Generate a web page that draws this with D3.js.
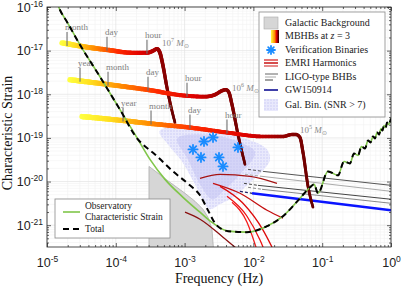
<!DOCTYPE html>
<html>
<head>
<meta charset="utf-8">
<script src="https://cdn.jsdelivr.net/npm/d3@7"></script>
<style>
body { margin: 0; background: #fff; }
</style>
</head>
<body>
<div id="chart"></div>
<script>
// all points are [log10 frequency (Hz), log10 characteristic strain]
const sensitivity = [
  [-4.869,-15.840],[-4.811,-16.068],[-4.709,-16.342],[-4.520,-16.868],[-4.230,-17.598],
  [-3.939,-18.352],[-3.677,-19.037],[-3.503,-19.493],[-3.285,-19.950],[-3.023,-20.361],
  [-2.776,-20.703],[-2.587,-20.954],[-2.369,-21.137],[-2.093,-21.160],[-1.802,-21.023],
  [-1.570,-20.795],[-1.323,-20.384],[-1.177,-20.132],[-1.119,-20.064],[-1.061,-20.269],
  [-0.916,-19.767],[-0.770,-19.858],[-0.683,-19.539],[-0.596,-19.584],[-0.538,-19.356],
  [-0.480,-19.402],[-0.429,-19.196],[-0.378,-19.242],[-0.334,-19.059],[-0.298,-19.105],
  [-0.262,-18.968],[-0.233,-19.014],[-0.203,-18.877],[-0.174,-18.922],[-0.145,-18.785],
  [-0.124,-18.831],[-0.102,-18.717],[-0.077,-18.763],[-0.058,-18.648],[-0.036,-18.694],
  [0,-18.557]
];
// where the total (with galactic confusion) departs from the instrument curve
const totalGalactic = [
  [-3.605,-19.151],[-3.430,-19.379],[-3.169,-19.767],[-2.922,-20.087],[-2.776,-20.315],
  [-2.660,-20.658],[-2.558,-20.954],[-2.427,-21.114]
];
const galacticBg = [
  [-3.517,-22],[-3.517,-19.653],[-3.212,-20.018],[-2.994,-20.269],[-2.849,-20.452],
  [-2.733,-20.635],[-2.660,-20.817],[-2.602,-21.091],[-2.558,-22]
];

const mbhb7 = [
  [-4.782,-16.822],[-4.448,-16.913],[-4.128,-16.982],[-3.750,-17.050],[-3.547,-17.050],
  [-3.459,-17.005],[-3.401,-16.959],[-3.358,-17.050],[-3.314,-17.347],[-3.256,-17.849],
  [-3.198,-18.283],[-3.140,-18.648]
];
const mbhb6 = [
  [-4.666,-17.667],[-4.084,-17.781],[-3.547,-17.895],[-2.994,-18.032],[-2.703,-18.055],
  [-2.558,-18.009],[-2.456,-17.918],[-2.398,-17.895],[-2.355,-17.963],[-2.311,-18.237],
  [-2.224,-18.922],[-2.122,-19.607]
];
const mbhb5 = [
  [-4.491,-18.511],[-3.895,-18.603],[-3.503,-18.671],[-2.922,-18.763],[-2.384,-18.877],
  [-1.860,-18.968],[-1.570,-18.968],[-1.439,-18.922],[-1.381,-18.922],[-1.323,-18.991],
  [-1.279,-19.333],[-1.206,-20.110],[-1.134,-20.589]
];
const timeTicks = [
  ["month",-4.709,-16.868],["day",-4.128,-16.982],["hour",-3.547,-17.050],
  ["year",-4.520,-17.689],["month",-4.113,-17.781],["day",-3.532,-17.895],["hour",-2.965,-18.032],
  ["year",-3.895,-18.603],["month",-3.488,-18.671],["day",-2.922,-18.763],["hour",-2.384,-18.877]
];
const massLabels = [["7",-3.328,-16.890],["6",-2.311,-17.918],["5",-1.323,-18.877]];

const verificationBinaries = [
  [-2.878,-19.265],[-2.762,-19.447],[-2.718,-19.082],[-2.587,-18.991],
  [-2.500,-19.447],[-2.442,-19.653],[-2.224,-19.219]
];
const galBinOuter = [
  [-3.358,-18.831],[-2.994,-18.717],[-2.558,-18.808],[-2.122,-19.014],[-1.831,-19.219],
  [-1.759,-19.493],[-1.875,-19.767],[-2.078,-20.064],[-2.267,-20.338],[-2.485,-20.521],
  [-2.631,-20.635],[-2.718,-20.475],[-2.849,-20.064],[-3.038,-19.539],[-3.241,-19.151]
];
const galBinInner = [
  [-3.096,-18.991],[-2.558,-18.945],[-2.122,-19.151],[-1.977,-19.379],[-2.195,-19.836],
  [-2.413,-20.178],[-2.602,-20.406],[-2.776,-20.064],[-2.951,-19.493]
];

const emri = [
  [[-2.994,-20.703],[-2.776,-20.863],[-2.442,-21.274],[-2.195,-21.6]],
  [[-2.776,-19.927],[-2.485,-19.836],[-2.049,-19.881],[-1.657,-20.041]],
  [[-2.587,-20.041],[-2.195,-20.269],[-1.802,-20.658],[-1.570,-20.840]],
  [[-2.485,-20.110],[-2.151,-20.498],[-1.860,-21.114],[-1.730,-21.502]],
  [[-2.384,-20.338],[-2.093,-20.795],[-1.904,-21.342],[-1.860,-21.502]],
  [[-2.311,-20.475],[-2.093,-20.932],[-1.962,-21.502]]
];
const emriColors = ["#8b1010", "#a51212", "#c41010", "#dd0a0a", "#ee1010", "#f51a1a"];

// [dashed start, solid start, end]
const ligo = [
  [[-2.078,-19.721],[-1.860,-19.767],[0,-20.087]],
  [[-2.122,-19.836],[-1.875,-19.881],[0,-20.224]],
  [[-2.137,-20.041],[-1.933,-20.087],[0,-20.406]],
  [[-2.078,-20.132],[-1.875,-20.178],[0,-20.498]]
];
const ligoColors = ["#555", "#aaa", "#444", "#888"];
const gw150914 = [[-2.195,-20.224],[-2.020,-20.269],[0,-20.658]];

const xMajor = [1e-5, 1e-4, 1e-3, 1e-2, 1e-1, 1];
const yMajor = [1e-21, 1e-20, 1e-19, 1e-18, 1e-17, 1e-16];

const W = 401, H = 288;
const margin = {top: 7, left: 47};
const width = 344, height = 240;
const sans = "'Liberation Sans', Arial, sans-serif";
const serif = "'Liberation Serif', 'Times New Roman', serif";

const svg = d3.select("#chart").append("svg")
  .attr("width", W).attr("height", H);
const defs = svg.append("defs");
const g = svg.append("g").attr("transform", `translate(${margin.left},${margin.top})`);

const x = d3.scaleLog().domain([1e-5, 1]).range([0, width]);
const y = d3.scaleLog().domain([Math.pow(10, -21.5), 1e-16]).range([height, 0]);
const px = d => x(Math.pow(10, d[0]));
const py = d => y(Math.pow(10, d[1]));

defs.append("clipPath").attr("id", "clip")
  .append("rect").attr("width", width).attr("height", height);

// minor values for grid / ticks
const xMinor = [], yMinor = [];
for (let k = -5; k < 0; k++) for (let m = 2; m < 10; m++) xMinor.push(m * Math.pow(10, k));
for (let k = -22; k < -16; k++) for (let m = 2; m < 10; m++) {
  const v = m * Math.pow(10, k);
  if (v > y.domain()[0] && v < 1e-16) yMinor.push(v);
}

// grid
const grid = g.append("g");
grid.selectAll(".gxm").data(xMinor).enter().append("line")
  .attr("x1", d => x(d)).attr("x2", d => x(d)).attr("y1", 0).attr("y2", height)
  .attr("stroke", "#f1f1f1").attr("stroke-width", 0.6);
grid.selectAll(".gym").data(yMinor).enter().append("line")
  .attr("y1", d => y(d)).attr("y2", d => y(d)).attr("x1", 0).attr("x2", width)
  .attr("stroke", "#f1f1f1").attr("stroke-width", 0.6);
grid.selectAll(".gx").data(xMajor).enter().append("line")
  .attr("x1", d => x(d)).attr("x2", d => x(d)).attr("y1", 0).attr("y2", height)
  .attr("stroke", "#e2e2e2").attr("stroke-width", 0.7);
grid.selectAll(".gy").data(yMajor).enter().append("line")
  .attr("y1", d => y(d)).attr("y2", d => y(d)).attr("x1", 0).attr("x2", width)
  .attr("stroke", "#e2e2e2").attr("stroke-width", 0.7);

const plot = g.append("g").attr("clip-path", "url(#clip)");
const line = d3.line().x(px).y(py);
const smooth = d3.line().x(px).y(py).curve(d3.curveMonotoneX);

// galactic background
plot.append("path").datum(galacticBg)
  .attr("d", line)
  .attr("fill", "#d6d6d6").attr("stroke", "#a8a8a8").attr("stroke-width", 0.7);

// resolvable galactic binaries cloud
const dots = defs.append("pattern").attr("id", "dots")
  .attr("width", 3).attr("height", 3).attr("patternUnits", "userSpaceOnUse");
dots.append("rect").attr("width", 3).attr("height", 3).attr("fill", "#e9e9fc");
dots.append("circle").attr("cx", 1).attr("cy", 1).attr("r", 0.8).attr("fill", "#cdcdf6");
plot.append("path").datum(galBinOuter)
  .attr("d", d3.line().x(px).y(py).curve(d3.curveCardinalClosed))
  .attr("fill", "url(#dots)");
plot.append("path").datum(galBinInner)
  .attr("d", d3.line().x(px).y(py).curve(d3.curveCardinalClosed))
  .attr("fill", "#c2c3f3").attr("opacity", 0.55);

// EMRI harmonics
plot.selectAll(".emri").data(emri).enter().append("path")
  .attr("d", smooth).attr("fill", "none")
  .attr("stroke", (d, i) => emriColors[i]).attr("stroke-width", 1.3);

// LIGO-type BHBs and GW150914
ligo.forEach((l, i) => {
  plot.append("path").datum(l.slice(0, 2)).attr("d", line)
    .attr("stroke", ligoColors[i]).attr("stroke-width", 1).attr("stroke-dasharray", "3,2").attr("fill", "none");
  plot.append("path").datum(l.slice(1)).attr("d", line)
    .attr("stroke", ligoColors[i]).attr("stroke-width", 1).attr("fill", "none");
});
plot.append("path").datum(gw150914.slice(0, 2)).attr("d", line)
  .attr("stroke", "#222266").attr("stroke-width", 1.2).attr("stroke-dasharray", "3,2").attr("fill", "none");
plot.append("path").datum(gw150914.slice(1)).attr("d", line)
  .attr("stroke", "#0a14ff").attr("stroke-width", 2.6).attr("fill", "none");

// MBHB tracks: thick, tapered, yellow -> dark red
const trackColor = d3.scaleLinear()
  .domain([0, 0.12, 0.3, 0.5, 0.72, 0.86, 1])
  .range(["#ffff40", "#ffe020", "#ff8a00", "#ff2a00", "#dd0000", "#990000", "#650000"])
  .clamp(true);
[mbhb7, mbhb6, mbhb5].forEach(track => {
  const tmp = plot.append("path").datum(track).attr("d", smooth).attr("fill", "none");
  const node = tmp.node();
  const len = node.getTotalLength();
  const x0 = px(track[0]), x1 = px(track[track.length - 1]);
  const step = 1.5;
  const tg = plot.append("g");
  for (let s = 0; s < len; s += step) {
    const a = node.getPointAtLength(s), b = node.getPointAtLength(Math.min(len, s + step));
    const t = s / len;
    tg.append("line").attr("x1", a.x).attr("y1", a.y).attr("x2", b.x).attr("y2", b.y)
      .attr("stroke", trackColor((a.x - x0) / (x1 - x0)))
      .attr("stroke-width", 5.4 - 2.8 * t).attr("stroke-linecap", "round");
  }
  tmp.remove();
});

// time-to-merger markers
const tt = plot.selectAll(".tt").data(timeTicks).enter().append("g")
  .attr("transform", d => `translate(${px([d[1]])},${py([0, d[2]])})`);
tt.append("line").attr("y1", -13).attr("y2", 1).attr("stroke", "#707070").attr("stroke-width", 1.1);
tt.append("text").attr("x", -2).attr("y", -15).text(d => d[0])
  .attr("font-family", serif).attr("font-size", 9).attr("fill", "#808080");

// mass labels
massLabels.forEach(m => {
  const t = plot.append("text").attr("x", px([m[1]])).attr("y", py([0, m[2]]))
    .attr("font-family", serif).attr("font-size", 9).attr("fill", "#8a8a8a");
  t.append("tspan").text("10");
  t.append("tspan").attr("dy", -3.5).attr("font-size", 6).text(m[0]);
  t.append("tspan").attr("dy", 3.5).attr("font-style", "italic").text(" M");
  t.append("tspan").attr("dy", 2).attr("font-size", 6).text("\u2299");
});

// verification binaries (asterisks)
const star = (sel, r, col) => {
  [0, 45, 90, 135].forEach(a => {
    sel.append("line").attr("x1", -r).attr("x2", r).attr("y1", 0).attr("y2", 0)
      .attr("transform", `rotate(${a})`).attr("stroke", col).attr("stroke-width", 1.8)
      .attr("stroke-linecap", "round");
  });
};
verificationBinaries.forEach(v => {
  const s = plot.append("g").attr("transform", `translate(${px(v)},${py(v)})`);
  star(s, 4.6, "#1a8cff");
});

// sensitivity and total
const total = sensitivity.filter(d => d[0] <= -3.677)
  .concat(totalGalactic)
  .concat(sensitivity.filter(d => d[0] >= -2.369));
plot.append("path").datum(sensitivity).attr("d", smooth)
  .attr("fill", "none").attr("stroke", "#80c64a").attr("stroke-width", 1.6);
plot.append("path").datum(total).attr("d", smooth)
  .attr("fill", "none").attr("stroke", "#000").attr("stroke-width", 2)
  .attr("stroke-dasharray", "6,4");

// frame and axes
g.append("rect").attr("width", width).attr("height", height)
  .attr("fill", "none").attr("stroke", "#222").attr("stroke-width", 0.8);

const supLabels = (sel) => {
  sel.selectAll(".tick text").each(function(d) {
    const t = d3.select(this);
    t.text(null);
    t.append("tspan").text("10");
    t.append("tspan").attr("dy", "-0.55em").attr("font-size", "8.5px").text(Math.round(Math.log10(d)));
  });
};
const styleAxis = (sel) => {
  sel.select(".domain").remove();
  sel.selectAll(".tick line").attr("stroke", "#222").attr("stroke-width", 0.7);
};

const xAxis = g.append("g").attr("transform", `translate(0,${height})`)
  .call(d3.axisBottom(x).tickValues(xMajor).tickSizeInner(-4).tickSizeOuter(0).tickPadding(11))
  .attr("font-family", sans).attr("font-size", 12.5).call(styleAxis).call(supLabels);
xAxis.selectAll(".tick text").attr("fill", "#222");
g.append("g").attr("transform", `translate(0,${height})`)
  .call(d3.axisBottom(x).tickValues(xMinor).tickSizeInner(-2).tickSizeOuter(0).tickFormat(""))
  .call(styleAxis);
g.append("g").call(d3.axisTop(x).tickValues(xMajor).tickSizeInner(-4).tickSizeOuter(0).tickFormat("")).call(styleAxis);
g.append("g").call(d3.axisTop(x).tickValues(xMinor).tickSizeInner(-2).tickSizeOuter(0).tickFormat("")).call(styleAxis);

const yAxis = g.append("g")
  .call(d3.axisLeft(y).tickValues(yMajor).tickSizeInner(-4).tickSizeOuter(0).tickPadding(4))
  .attr("font-family", sans).attr("font-size", 12.5).call(styleAxis).call(supLabels);
yAxis.selectAll(".tick text").attr("fill", "#222");
g.append("g").call(d3.axisLeft(y).tickValues(yMinor).tickSizeInner(-2).tickSizeOuter(0).tickFormat("")).call(styleAxis);
g.append("g").attr("transform", `translate(${width},0)`)
  .call(d3.axisRight(y).tickValues(yMajor).tickSizeInner(-4).tickSizeOuter(0).tickFormat("")).call(styleAxis);
g.append("g").attr("transform", `translate(${width},0)`)
  .call(d3.axisRight(y).tickValues(yMinor).tickSizeInner(-2).tickSizeOuter(0).tickFormat("")).call(styleAxis);

// axis titles
svg.append("text").attr("x", margin.left + width / 2).attr("y", 283)
  .attr("text-anchor", "middle").attr("font-family", serif).attr("font-size", 14)
  .attr("fill", "#111").text("Frequency (Hz)");
svg.append("text").attr("transform", `translate(12,${margin.top + height / 2 + 6}) rotate(-90)`)
  .attr("text-anchor", "middle").attr("font-family", serif).attr("font-size", 14)
  .attr("fill", "#111").text("Characteristic Strain");

// main legend
const leg = svg.append("g").attr("font-family", serif).attr("font-size", 10).attr("fill", "#222");
leg.append("rect").attr("x", 259).attr("y", 12).attr("width", 126).attr("height", 105)
  .attr("fill", "#fff").attr("stroke", "#8a8a8a").attr("stroke-width", 0.8);
const legItems = ["Galactic Background", "MBHBs at ", "Verification Binaries", "EMRI Harmonics",
  "LIGO-type BHBs", "GW150914", "Gal. Bin. (SNR > 7)"];
const legY = [23, 36, 50, 63, 77, 90, 105];
legItems.forEach((s, i) => {
  const t = leg.append("text").attr("x", 285).attr("y", legY[i]).attr("dy", "0.33em").text(s);
  if (i === 1) {
    t.append("tspan").attr("font-style", "italic").text("z");
    t.append("tspan").text(" = 3");
  }
});
leg.append("rect").attr("x", 264).attr("y", 17).attr("width", 14).attr("height", 12)
  .attr("fill", "#d6d6d6").attr("stroke", "#aaa").attr("stroke-width", 0.6);
const lg = defs.append("linearGradient").attr("id", "mbhbIcon");
[["0%", "#ffff40"], ["45%", "#ff9000"], ["70%", "#dd0000"], ["100%", "#220000"]]
  .forEach(s => lg.append("stop").attr("offset", s[0]).attr("stop-color", s[1]));
leg.append("rect").attr("x", 271).attr("y", 30).attr("width", 8).attr("height", 13)
  .attr("fill", "url(#mbhbIcon)");
star(leg.append("g").attr("transform", `translate(271,${legY[2]})`), 4, "#1a8cff");
["#e05050", "#cc2020", "#e07070"].forEach((c, i) => {
  leg.append("line").attr("x1", 264).attr("x2", 278).attr("y1", 60 + i * 3).attr("y2", 60 + i * 3)
    .attr("stroke", c).attr("stroke-width", 1.6);
});
[[265, 278, "#666"], [265, 276, "#aaa"], [265, 273, "#444"]].forEach((l, i) => {
  leg.append("line").attr("x1", l[0]).attr("x2", l[1]).attr("y1", 74 + i * 3).attr("y2", 74 + i * 3)
    .attr("stroke", l[2]).attr("stroke-width", 1);
});
leg.append("line").attr("x1", 264).attr("x2", 278).attr("y1", 90).attr("y2", 90)
  .attr("stroke", "#2a2aa0").attr("stroke-width", 1.8);
leg.append("rect").attr("x", 264).attr("y", 99).attr("width", 14).attr("height", 12)
  .attr("fill", "url(#dots)");

// lower legend
const leg2 = svg.append("g").attr("font-family", serif).attr("font-size", 9.5).attr("fill", "#222");
leg2.append("rect").attr("x", 55).attr("y", 199).attr("width", 115).attr("height", 39)
  .attr("fill", "#fff").attr("stroke", "#8a8a8a").attr("stroke-width", 0.8);
leg2.append("line").attr("x1", 63).attr("x2", 80).attr("y1", 212).attr("y2", 212)
  .attr("stroke", "#80c64a").attr("stroke-width", 1.6);
leg2.append("text").attr("x", 85).attr("y", 206).attr("dy", "0.33em").text("Observatory");
leg2.append("text").attr("x", 85).attr("y", 216.5).attr("dy", "0.33em").text("Characteristic Strain");
leg2.append("line").attr("x1", 63).attr("x2", 80).attr("y1", 229).attr("y2", 229)
  .attr("stroke", "#000").attr("stroke-width", 2).attr("stroke-dasharray", "6,4");
leg2.append("text").attr("x", 85).attr("y", 229).attr("dy", "0.33em").text("Total");
</script>
</body>
</html>
